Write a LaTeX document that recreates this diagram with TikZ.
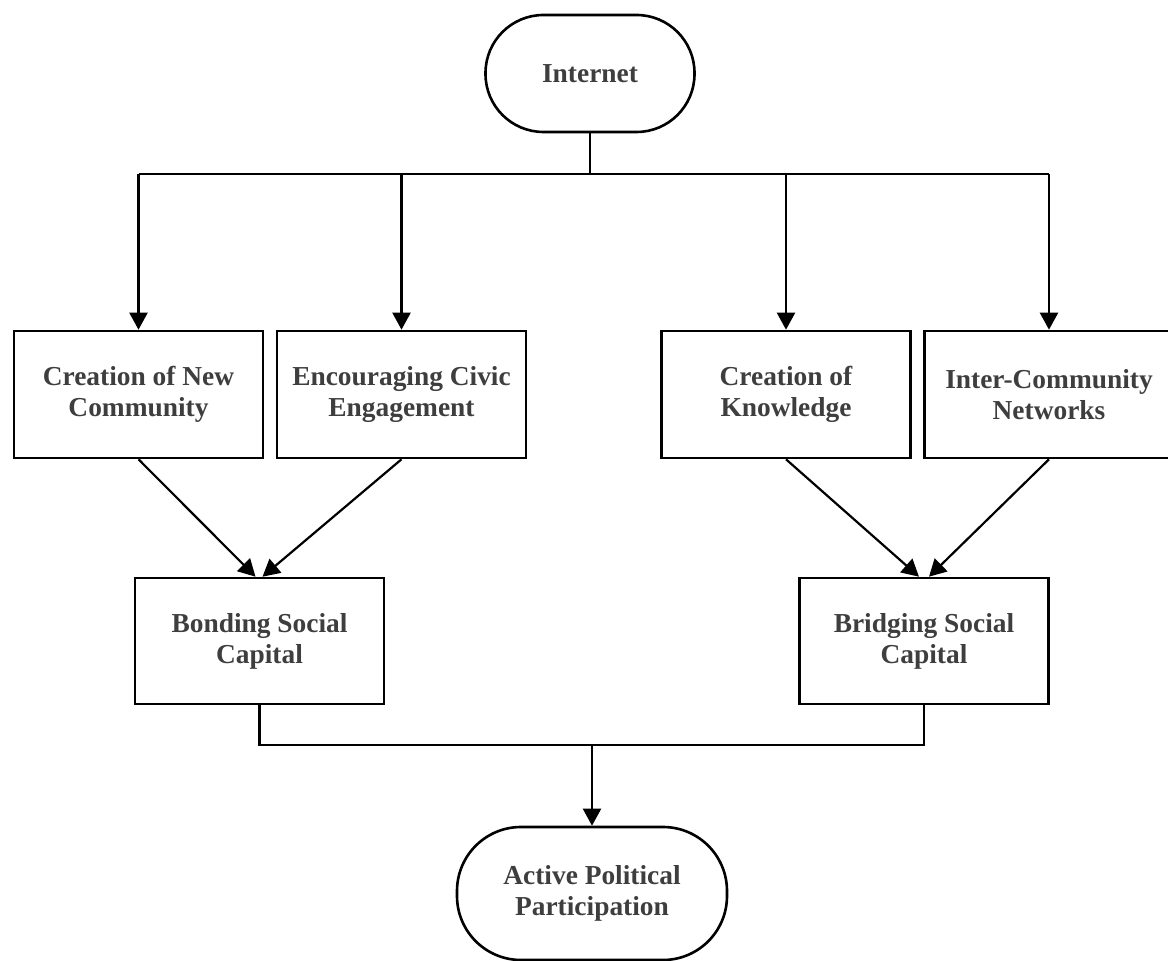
\documentclass[tikz,border=0pt]{standalone}
\usepackage{fontspec}
\setmainfont{Liberation Serif}
\usetikzlibrary{arrows.meta}
\definecolor{labelgray}{RGB}{62,62,62}
\tikzset{
  box/.style={draw=black, line width=1.3pt, minimum width=124.5pt, minimum height=63.5pt,
    align=center, font=\fontsize{13.7}{15.5}\selectfont\bfseries, text=labelgray, inner sep=0pt},
  term/.style={box, rounded corners=29pt},
  link/.style={black, line width=1.1pt},
  arr/.style={link, -{Triangle[length=8.5pt,width=9pt]}}
}

\begin{document}
\begin{tikzpicture}[x=0.5pt,y=-0.5pt]

\useasboundingbox (0,0) rectangle (1168,961);

\node[term, minimum width=104.5pt, minimum height=58.5pt] (inet) at (590,73.5) {Internet};

\node[box] (newcom) at (138.5,394.5) {Creation of New\\Community};
\node[box] (civic) at (401.5,394.5) {Encouraging Civic\\Engagement};
\node[box] (know) at (786,394.5) {Creation of\\Knowledge};
\node[box] (inter) at (1049,394.5) {Inter-Community\\Networks};

\node[box, minimum height=63pt] (bond) at (259.5,641) {Bonding Social\\Capital};
\node[box, minimum height=63pt] (bridge) at (924,641) {Bridging Social\\Capital};

\node[term, minimum width=135pt, minimum height=66.5pt, rounded corners=32pt] (active) at (592,893.5) {Active Political\\Participation};

% top split
\coordinate (split) at (590,174);
\draw[link] (inet.south) -- (split);
\draw[link] (newcom.north |- split) -- (inter.north |- split);
\foreach \n in {newcom,civic,know,inter}
  \draw[arr] (\n.north |- split) -- (\n.north);

% into the capitals
\draw[arr] (newcom.south) -- ([xshift=-2pt]bond.north);
\draw[arr] (civic.south) -- ([xshift=1.5pt]bond.north);
\draw[arr] (know.south) -- ([xshift=-2.5pt]bridge.north);
\draw[arr] (inter.south) -- ([xshift=2.5pt]bridge.north);

% bottom join
\coordinate (join) at (592,745);
\draw[link] (bond.south) -- (bond.south |- join) -- (bridge.south |- join) -- (bridge.south);
\draw[arr] (join) -- (active.north);

\end{tikzpicture}
\end{document}
